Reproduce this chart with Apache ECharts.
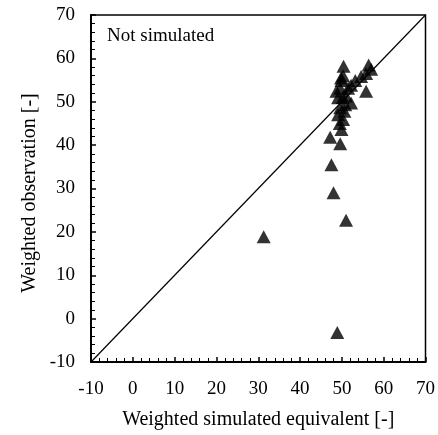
<!DOCTYPE html>
<html><head><meta charset="utf-8">
<script src="https://cdn.jsdelivr.net/npm/echarts@6/dist/echarts.min.js"></script>
<style>html,body{margin:0;padding:0;background:#fff}#c{width:438px;height:435px}</style>
</head><body><div id="c"></div>
<script>
const simX = [31.3, 48.9, 51.0, 48.0, 47.5, 47.2, 49.6, 49.9, 50.3, 49.1, 49.6, 49.1, 50.8, 51.0, 52.2, 48.7, 49.6, 51.5, 52.2, 49.9, 50.3, 53.2, 54.6, 55.8, 57.0, 56.4, 50.4, 55.8, 50.2, 49.5, 50.6, 49.8];
const obsY = [18.9, -3.2, 22.7, 29.0, 35.5, 41.8, 40.3, 43.6, 45.9, 47.0, 48.6, 50.9, 49.3, 51.3, 49.7, 52.4, 53.1, 53.1, 53.8, 54.9, 56.0, 54.9, 55.8, 56.5, 57.5, 58.5, 58.2, 52.4, 51.0, 45.0, 47.8, 55.5];
const lineX = [-10, 70];
const lineY = [-10, 70];
const axisMin = -10, axisMax = 70, axisStep = 10;
const xTitle = 'Weighted simulated equivalent [-]';
const yTitle = 'Weighted observation [-]';
const note = 'Not simulated';

const font = 'Liberation Serif';
const chart = echarts.init(document.getElementById('c'));
const axisCommon = {
  type: 'value', min: axisMin, max: axisMax, interval: axisStep,
  axisLine: {show: true, onZero: false, lineStyle: {color: '#000', width: 2}},
  axisTick: {show: true, inside: true, length: 5, lineStyle: {color: '#000', width: 1.5}},
  minorTick: {show: true, splitNumber: 5, length: 4, lineStyle: {color: '#000', width: 1}},
  splitLine: {show: false},
  axisLabel: {color: '#000', fontFamily: font, fontSize: 19, margin: 16},
  nameLocation: 'middle',
  nameTextStyle: {color: '#000', fontFamily: font, fontSize: 20}
};
chart.setOption({
  animation: false,
  grid: {left: 91, right: 10, top: 15, bottom: 64, show: true, borderColor: '#000', borderWidth: 1.5, backgroundColor: 'transparent'},
  xAxis: Object.assign({}, axisCommon, {name: xTitle, nameGap: 48, axisLabel: Object.assign({}, axisCommon.axisLabel, {margin: 18})}),
  yAxis: Object.assign({}, axisCommon, {name: ''}),
  graphic: [
    {type: 'text', left: 107, top: 27, style: {text: note, font: '19px "Liberation Serif"', fill: '#000'}},
    {type: 'text', x: 30, y: 193, rotation: Math.PI / 2, style: {text: yTitle, font: '20px "Liberation Serif"', fill: '#000', align: 'center', verticalAlign: 'middle'}}
  ],
  series: [
    {type: 'line', data: lineX.map((x, i) => [x, lineY[i]]), showSymbol: false, symbol: 'none', lineStyle: {color: '#000', width: 1.2}, z: 1},
    {type: 'scatter', data: simX.map((x, i) => [x, obsY[i]]), symbol: 'triangle', symbolSize: [14, 13], itemStyle: {color: '#000'}, z: 3}
  ]
});
</script></body></html>
